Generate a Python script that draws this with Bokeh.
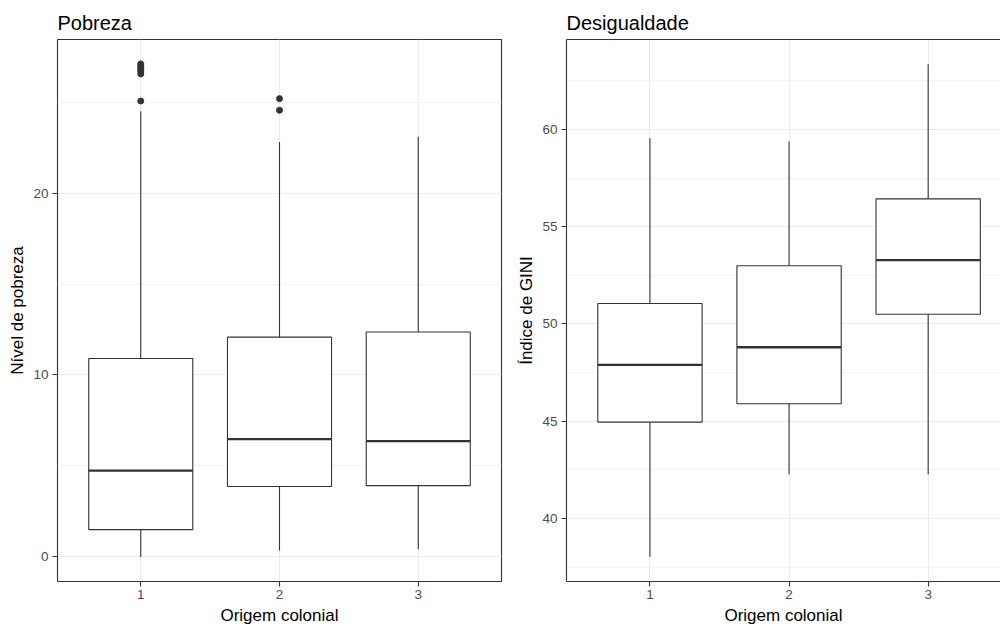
from bokeh.plotting import figure
from bokeh.layouts import row
from bokeh.models import Range1d, FixedTicker, ColumnDataSource, LinearAxis
from bokeh.embed import file_html
from bokeh.resources import INLINE

# ---------------- data ----------------
categories = [1, 2, 3]
tick_labels = ["1", "2", "3"]

# Pobreza (Nível de pobreza)
pob_lower = [0.0, 0.36, 0.42]
pob_q1 = [1.50, 3.87, 3.92]
pob_median = [4.74, 6.48, 6.37]
pob_q3 = [10.91, 12.08, 12.36]
pob_upper = [24.5, 22.8, 23.1]
pob_out_x = [1, 1, 1, 1, 1, 1, 1, 2, 2]
pob_out_y = [27.1, 27.0, 26.9, 26.8, 26.7, 26.55, 25.06, 25.19, 24.55]

# Desigualdade (Índice de GINI)
gini_lower = [38.03, 42.27, 42.27]
gini_q1 = [44.95, 45.90, 50.50]
gini_median = [47.90, 48.80, 53.28]
gini_q3 = [51.05, 52.99, 56.43]
gini_upper = [59.55, 59.38, 63.35]
gini_out_x = []
gini_out_y = []

FONT = "Liberation Sans"
DARK = "#333333"
GRID = "#ebebeb"
BOX_W = 0.75


def make_panel(title, ylabel, lower, q1, med, q3, upper, out_x, out_y,
               y0, y1, major, minor, x_end, width, mb_left, mb_right, open_right=False):
    p = figure(width=width, height=627, output_backend="svg", toolbar_location=None,
               x_range=Range1d(0.4, x_end), y_range=Range1d(y0, y1),
               min_border_left=mb_left, min_border_right=mb_right,
               min_border_top=39, min_border_bottom=44)
    p.background_fill_color = "white"
    p.border_fill_color = "white"
    if open_right:
        p.outline_line_color = None
    else:
        p.outline_line_color = DARK
        p.outline_line_width = 1.1

    half = BOX_W / 2
    src = ColumnDataSource(dict(
        x=categories,
        left=[c - half for c in categories],
        right=[c + half for c in categories],
        lower=lower, q1=q1, med=med, q3=q3, upper=upper))

    p.segment(x0="x", y0="q3", x1="x", y1="upper", source=src, line_color=DARK, line_width=1.1)
    p.segment(x0="x", y0="q1", x1="x", y1="lower", source=src, line_color=DARK, line_width=1.1)
    p.quad(left="left", right="right", bottom="q1", top="q3", source=src,
           fill_color="white", line_color=DARK, line_width=1.1)
    p.segment(x0="left", y0="med", x1="right", y1="med", source=src, line_color=DARK, line_width=2.3)
    if out_x:
        p.scatter(x=out_x, y=out_y, marker="circle", size=6, color=DARK)

    # grid
    p.xgrid.ticker = FixedTicker(ticks=categories)
    p.ygrid.ticker = FixedTicker(ticks=major, minor_ticks=minor)
    p.xgrid.grid_line_color = GRID
    p.ygrid.grid_line_color = GRID
    p.xgrid.grid_line_width = 1.1
    p.ygrid.grid_line_width = 1.1
    p.ygrid.minor_grid_line_color = "#f0f0f0"
    p.ygrid.minor_grid_line_width = 0.8

    # axes
    p.xaxis.ticker = FixedTicker(ticks=categories)
    p.xaxis.major_label_overrides = {c: t for c, t in zip(categories, tick_labels)}
    p.yaxis.ticker = FixedTicker(ticks=major)
    for ax in (p.xaxis[0], p.yaxis[0]):
        ax.axis_line_color = DARK if open_right else None
        ax.axis_line_width = 1.1
        ax.major_tick_line_color = DARK
        ax.major_tick_line_width = 1.1
        ax.major_tick_in = 0
        ax.major_tick_out = 5
        ax.minor_tick_line_color = None
        ax.major_label_text_font = FONT
        ax.major_label_text_font_size = "13.5px"
        ax.major_label_text_color = "#4d4d4d"
        ax.axis_label_text_font = FONT
        ax.axis_label_text_font_size = "17px"
        ax.axis_label_text_font_style = "normal"
        ax.axis_label_text_color = "black"
    p.xaxis.axis_label = "Origem colonial"
    p.yaxis.axis_label = ylabel
    p.xaxis.major_label_standoff = 3
    p.xaxis.axis_label_standoff = 4
    p.yaxis.major_label_standoff = 4
    p.yaxis.axis_label_standoff = 3

    if open_right:
        top = LinearAxis(ticker=FixedTicker(ticks=[]), axis_line_color=DARK, axis_line_width=1.1,
                         major_tick_line_color=None, minor_tick_line_color=None,
                         major_label_text_font_size="0px")
        p.add_layout(top, "above")

    p.title.text = title
    p.title.text_font = FONT
    p.title.text_font_size = "20px"
    p.title.text_font_style = "normal"
    p.title.text_color = "black"
    p.title.align = "left"
    p.title.offset = 0
    p.title.standoff = 11
    return p


p1 = make_panel("Pobreza", "Nível de pobreza", pob_lower, pob_q1, pob_median, pob_q3,
                pob_upper, pob_out_x, pob_out_y, -1.35, 28.44,
                [0, 10, 20], [5, 15, 25], 3.6, 505, 57, 4)
p2 = make_panel("Desigualdade", "Índice de GINI", gini_lower, gini_q1, gini_median, gini_q3,
                gini_upper, gini_out_x, gini_out_y, 36.76, 64.62,
                [40, 45, 50, 55, 60], [37.5, 42.5, 47.5, 52.5, 57.5, 62.5], 3.52, 495, 61, 0,
                open_right=True)

layout = row(p1, p2, spacing=0)
open("out.html", "w").write(file_html(layout, INLINE))
